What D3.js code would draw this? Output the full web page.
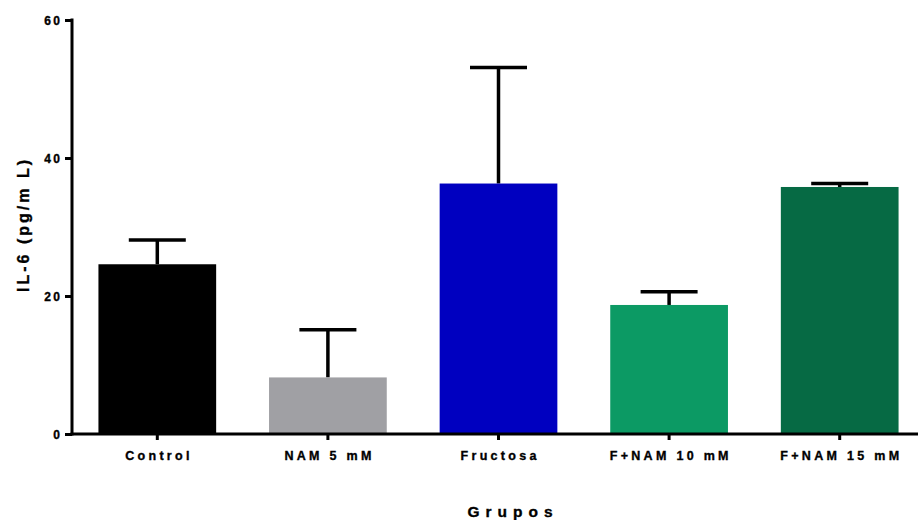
<!DOCTYPE html>
<html>
<head>
<meta charset="utf-8">
<script src="https://cdn.jsdelivr.net/npm/d3@7"></script>
<style>
  html, body { margin: 0; padding: 0; background: #fff; }
  svg { display: block; }
  text { font-family: "Liberation Sans", Arial, sans-serif; font-weight: bold; fill: #000; stroke: #000; stroke-width: 0.35px; }
</style>
</head>
<body>
<svg id="chart" width="918" height="520"></svg>
<script>
const categories = ["Control", "NAM 5 mM", "Fructosa", "F+NAM 10 mM", "F+NAM 15 mM"];
const means = [24.6, 8.2, 36.3, 18.7, 35.8];
const errors = [3.5, 6.9, 16.8, 1.9, 0.5];
const colors = ["#000000", "#a0a0a4", "#0000c0", "#0c9a64", "#066a44"];
const yTicks = [0, 20, 40, 60];
const yTitle = "IL-6 (pg/m L)";
const xTitle = "Grupos";

const svg = d3.select("#chart");
const x0 = 72, x1 = 925, yTop = 20, yBot = 434;

const x = d3.scaleBand().domain(categories).range([x0, x1]).paddingInner(0.31).paddingOuter(0.155);
const y = d3.scaleLinear().domain([0, 60]).range([yBot, yTop]);

const data = categories.map((c, i) => ({ c, m: means[i], e: errors[i], col: colors[i] }));

// error bars
const capW = 57;
const eb = svg.append("g").attr("stroke", "#000").attr("stroke-width", 3.5);
data.forEach(d => {
  const cx = x(d.c) + x.bandwidth() / 2;
  eb.append("line").attr("x1", cx).attr("x2", cx).attr("y1", y(d.m)).attr("y2", y(d.m + d.e));
  eb.append("line").attr("x1", cx - capW / 2).attr("x2", cx + capW / 2).attr("y1", y(d.m + d.e)).attr("y2", y(d.m + d.e));
});

// bars
svg.append("g").selectAll("rect").data(data).join("rect")
  .attr("x", d => x(d.c))
  .attr("width", x.bandwidth())
  .attr("y", d => y(d.m))
  .attr("height", d => y(0) - y(d.m))
  .attr("fill", d => d.col);

// y axis
const yAxis = svg.append("g").attr("transform", `translate(${x0},0)`)
  .call(d3.axisLeft(y).tickValues(yTicks).tickSize(7).tickPadding(5).tickSizeOuter(0));
yAxis.select(".domain").attr("stroke-width", 3).attr("d", `M0,${yTop - 1.5}V${yBot + 1.5}`);
yAxis.selectAll(".tick line").attr("stroke-width", 3);
yAxis.selectAll(".tick text").style("font-size", "12px").style("letter-spacing", "2.5px")
  .attr("dx", "2.5px").attr("dy", "0.36em").style("font-family", "'Liberation Sans', Arial, sans-serif").style("font-weight", "bold");

// x axis
const xAxis = svg.append("g").attr("transform", `translate(0,${yBot})`)
  .call(d3.axisBottom(x).tickSize(6).tickPadding(11).tickSizeOuter(0));
xAxis.select(".domain").attr("stroke-width", 3).attr("d", `M${x0 - 1.5},0H${x1}`);
xAxis.selectAll(".tick line").attr("stroke-width", 3);
xAxis.selectAll(".tick text").style("font-size", "12.5px").style("letter-spacing", "3.3px")
  .attr("dx", "1.65px").style("font-family", "'Liberation Sans', Arial, sans-serif").style("font-weight", "bold");

// titles
svg.append("text").attr("x", 513).attr("y", 517).attr("text-anchor", "middle")
  .style("font-size", "15.5px").style("letter-spacing", "6px").text(xTitle);
svg.append("text").attr("transform", "translate(29,226) rotate(-90)").attr("text-anchor", "middle")
  .style("font-size", "16px").style("letter-spacing", "3px").attr("dx", "1.5px").text(yTitle);
</script>
</body>
</html>
